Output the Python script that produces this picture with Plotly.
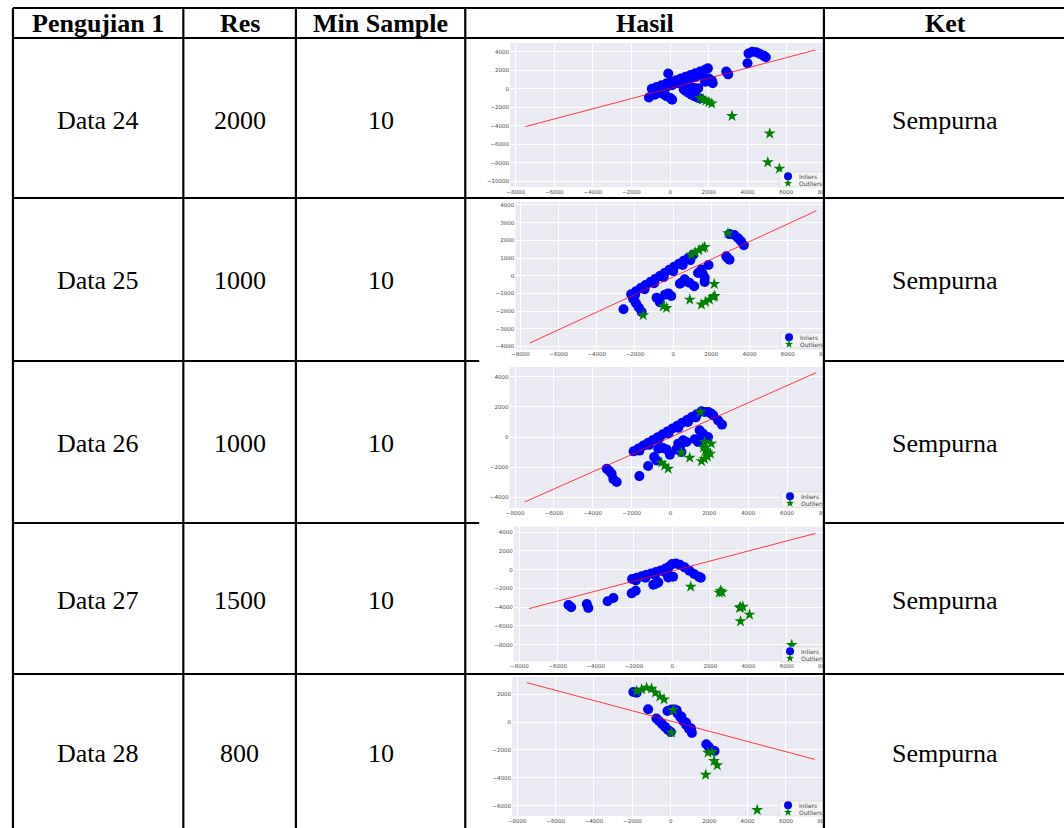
import math
import plotly.graph_objects as go

# ---------------- table content ----------------
header_labels = ["Pengujian 1", "Res", "Min Sample", "Hasil", "Ket"]
data_labels = ["Data 24", "Data 25", "Data 26", "Data 27", "Data 28"]
res_labels = ["2000", "1000", "1000", "1500", "800"]
min_sample_labels = ["10", "10", "10", "10", "10"]
ket_labels = ["Sempurna", "Sempurna", "Sempurna", "Sempurna", "Sempurna"]
legend_labels = ["Inliers", "Outliers"]

x_ticks = [-8000, -6000, -4000, -2000, 0, 2000, 4000, 6000, 8000]

# ---------------- Data 24 ----------------
d24_inliers = [
    (-950, 0), (-700, 180), (-450, 370), (-200, 560), (50, 740), (300, 920), (550, 1100),
    (800, 1290), (1050, 1480), (1300, 1670), (1550, 1860), (1800, 2050), (1950, 2200),
    (-800, -300), (-500, -80), (-200, 150), (100, 380), (400, 600), (700, 820), (1000, 1040),
    (1300, 1260), (1600, 1480),
    (-1100, -950), (-800, -650), (-550, -450), (-350, -600), (-200, -800), (0, -1000), (100, -1200),
    (-100, 1650),
    (700, -50), (1000, 200), (1450, 50), (1300, -150), (800, -250), (950, -450), (1100, -650),
    (1250, -800), (1400, -950), (1550, -1050), (900, 0), (1200, 100),
    (1800, 750), (2000, 1100), (2150, 900), (2200, 600), (1950, 800),
    (2900, 1850), (3000, 1550), (4000, 2750),
    (4050, 3800), (4250, 4000), (4450, 3950), (4650, 3750), (4850, 3550), (4950, 3400),
]
d24_outliers = [
    (1550, -1000), (1700, -1150), (1850, -1300), (2000, -1450), (2150, -1600),
    (3200, -2950), (5150, -4850), (5050, -7950), (5650, -8650),
]
d24_line_x = [-7500, 7500]
d24_line_y = [-4100, 4180]
d24_y_ticks = [-10000, -8000, -6000, -4000, -2000, 0, 2000, 4000]

# ---------------- Data 25 ----------------
d25_inliers = [
    (-2200, -1050), (-1950, -880), (-1700, -700), (-1450, -530), (-1200, -360), (-950, -190),
    (-700, -20), (-450, 150), (-200, 330), (50, 500), (300, 670), (550, 840), (800, 1010), (1050, 1190),
    (-2000, -1100), (-1500, -760), (-1000, -420), (-500, -80), (0, 260), (500, 600), (900, 880),
    (-2100, -1300), (-1950, -1550), (-1800, -1800), (-1650, -2050),
    (-2600, -1900),
    (-870, -1250), (-700, -1500),
    (-430, -1070), (-100, -1150), (-250, -1000),
    (350, -450), (600, -200), (850, -400), (1100, -600), (500, -350),
    (1300, 150), (1480, 350), (1650, -100), (1650, -350), (1850, 600), (1550, 100),
    (2780, 1100), (2950, 900), (2850, 1000),
    (2950, 2350), (3200, 2300), (3400, 2120), (3550, 1950), (3700, 1720),
]
d25_outliers = [
    (950, 1180), (1150, 1320), (1350, 1440), (1550, 1560), (1650, 1620),
    (2870, 2400), (-1570, -2230), (-520, -1730), (-350, -1820), (870, -1350),
    (1480, -1630), (1700, -1480), (1900, -1350), (2100, -1200), (2180, -1150),
    (2150, -470),
]
d25_line_x = [-7500, 7500]
d25_line_y = [-3800, 3670]
d25_y_ticks = [-4000, -3000, -2000, -1000, 0, 1000, 2000, 3000, 4000]

# ---------------- Data 26 ----------------
d26_inliers = [
    (-1900, -950), (-1650, -760), (-1400, -570), (-1150, -380), (-900, -200), (-650, -10),
    (-400, 180), (-150, 370), (100, 560), (350, 750), (600, 940), (850, 1130), (1100, 1320),
    (1350, 1500), (1600, 1700),
    (-1600, -900), (-1100, -520), (-600, -140), (-100, 240), (400, 620), (900, 1000), (1300, 1300),
    (1750, 1650), (1950, 1650), (2200, 1430), (2450, 1100), (2650, 820), (2100, 1550),
    (1500, 450), (1680, 220), (1930, 0), (1250, -150), (1420, -330), (1600, 100),
    (650, -220), (820, -330), (400, -440), (300, -820), (560, -990), (500, -600),
    (-630, -770), (-380, -730), (-200, -820), (-30, -1170), (-840, -1330), (-720, -1550),
    (-1150, -1920), (-1600, -2590),
    (-3280, -2100), (-3030, -2430), (-2940, -2800), (-2770, -2980), (-3150, -2250),
]
d26_outliers = [
    (1540, 1660), (1760, -330), (2100, -440),
    (1700, -700), (1800, -880), (1900, -1000), (2050, -1100), (1900, -1300), (1750, -1450), (1600, -1600),
    (560, -1040), (990, -1370),
    (-460, -1700), (-300, -1900), (-120, -2100),
]
d26_line_x = [-7500, 7500]
d26_line_y = [-4300, 4260]
d26_y_ticks = [-4000, -2000, 0, 2000, 4000]

# ---------------- Data 27 ----------------
d27_inliers = [
    (-2100, -1000), (-1850, -850), (-1600, -700), (-1350, -550), (-1100, -400), (-850, -250),
    (-600, -80), (-350, 120), (-150, 350),
    (-1900, -1150), (-1400, -850), (-900, -550), (-400, -250),
    (0, 600), (200, 650), (400, 530), (650, 250), (900, -100), (1150, -450), (1400, -750), (1500, -850),
    (-120, -640), (50, -750), (-210, -820),
    (-730, -1350), (-990, -1600), (-850, -1500),
    (-1910, -2240), (-2120, -2520),
    (-3080, -3020), (-3380, -3370),
    (-4470, -3660), (-4390, -4080),
    (-5430, -3760), (-5290, -4010),
]
d27_outliers = [
    (970, -1810), (2540, -2240), (2610, -2410), (2470, -2450),
    (3580, -4010), (3700, -3940), (3530, -4060), (4050, -4790), (3580, -5500), (6260, -8020),
]
d27_line_x = [-7500, 7500]
d27_line_y = [-4150, 3870]
d27_y_ticks = [-8000, -6000, -4000, -2000, 0, 2000, 4000]

# ---------------- Data 28 ----------------
d28_inliers = [
    (-1950, 2150), (-1780, 2100), (-1180, 910),
    (-750, 250), (-600, 50), (-450, -150), (-300, -350), (-150, -550), (0, -720),
    (-170, 790), (30, 900),
    (200, 900), (350, 620), (500, 340), (650, 60), (800, -220), (950, -500), (1100, -780),
    (300, 850), (550, 400), (800, -50), (1050, -450),
    (1850, -1600), (1970, -1770), (2110, -2000), (2280, -2080),
]
d28_outliers = [
    (-1780, 2220), (-1520, 2340), (-1260, 2460), (-1000, 2390), (-800, 2100), (-570, 1820), (-350, 1620),
    (120, 860), (35, -770), (1940, -2200), (2150, -2150), (2250, -2800), (2420, -3100),
    (1820, -3780), (4500, -6310),
]
d28_line_x = [-7500, 7500]
d28_line_y = [2820, -2680]
d28_y_ticks = [-6000, -4000, -2000, 0, 2000]

datasets = [
    (d24_inliers, d24_outliers, d24_line_x, d24_line_y, d24_y_ticks),
    (d25_inliers, d25_outliers, d25_line_x, d25_line_y, d25_y_ticks),
    (d26_inliers, d26_outliers, d26_line_x, d26_line_y, d26_y_ticks),
    (d27_inliers, d27_outliers, d27_line_x, d27_line_y, d27_y_ticks),
    (d28_inliers, d28_outliers, d28_line_x, d28_line_y, d28_y_ticks),
]

# ---------------- layout geometry (pixels) ----------------
W, H = 1064, 828
col_edges = [9, 180, 293, 463, 823, 1067]
row_edges = [8, 38, 198, 361, 523, 674, 832]
header_y = 23
row_text_y = [121, 281, 443, 600, 753]

# per subplot: pixel of x=0, px per 1000 in x, pixel of y=0, px per 1000 in y, frame box
frames = [
    dict(x0=668.7, xs=19.4, y0=88.7, ys=9.25, fx=(508, 840), fy=(43, 187)),
    dict(x0=671.7, xs=19.17, y0=275.7, ys=17.7, fx=(513.3, 840), fy=(202, 349.7)),
    dict(x0=669.0, xs=19.5, y0=437.0, ys=15.1, fx=(507.3, 840), fy=(367, 508)),
    dict(x0=670.7, xs=19.17, y0=569.7, ys=9.38, fx=(511.7, 840), fy=(526.7, 661.3)),
    dict(x0=669.3, xs=19.27, y0=722.0, ys=13.95, fx=(510, 840), fy=(677, 816)),
]
legend_boxes = [(778, 172), (779, 333), (780, 492), (780, 647), (778, 801)]


def px(v):
    return v / W


def py(v):
    return 1 - v / H


def fmt_tick(v):
    return ("\u2212" if v < 0 else "") + str(abs(v))


BLUE = "#0000FF"
GREEN = "#008000"
BG = "#EAEAF2"

fig = go.Figure()
layout_axes = {}
for i, (inl, outl, lx, ly, yt) in enumerate(datasets):
    k = "" if i == 0 else str(i + 1)
    xa, ya = "x" + k, "y" + k
    fig.add_trace(go.Scatter(
        x=[p[0] for p in inl], y=[p[1] for p in inl], mode="markers",
        marker=dict(color=BLUE, size=10, symbol="circle", line=dict(width=0)),
        xaxis=xa, yaxis=ya, showlegend=False, name="Inliers"))
    fig.add_trace(go.Scatter(
        x=[p[0] for p in outl], y=[p[1] for p in outl], mode="markers",
        marker=dict(color=GREEN, size=9, symbol="star", line=dict(width=0)),
        xaxis=xa, yaxis=ya, showlegend=False, name="Outliers"))
    fig.add_trace(go.Scatter(
        x=lx, y=ly, mode="lines", line=dict(color="rgba(255,0,0,0.75)", width=1),
        xaxis=xa, yaxis=ya, showlegend=False, name="Line"))
    f = frames[i]
    xr = [(f["fx"][0] - f["x0"]) / f["xs"] * 1000, (f["fx"][1] - f["x0"]) / f["xs"] * 1000]
    yr = [(f["y0"] - f["fy"][1]) / f["ys"] * 1000, (f["y0"] - f["fy"][0]) / f["ys"] * 1000]
    common = dict(showgrid=True, gridcolor="white", gridwidth=1, zeroline=False,
                  showline=False, ticks="", tickmode="array",
                  tickfont=dict(family="DejaVu Sans", size=5.5, color="#4a4a4a"),
                  fixedrange=True)
    layout_axes["xaxis" + k] = dict(domain=[px(f["fx"][0]), px(f["fx"][1])], range=xr,
                                    anchor=ya, tickvals=x_ticks,
                                    ticktext=[fmt_tick(v) for v in x_ticks], **common)
    layout_axes["yaxis" + k] = dict(domain=[py(f["fy"][1]), py(f["fy"][0])], range=yr,
                                    anchor=xa, tickvals=yt,
                                    ticktext=[fmt_tick(v) for v in yt], **common)

fig.update_layout(**layout_axes)

shapes = []
annotations = []


def star_path(cx, cy, r_out, r_in):
    pts = []
    for n in range(10):
        ang = -math.pi / 2 + n * math.pi / 5
        r = r_out if n % 2 == 0 else r_in
        pts.append((px(cx + r * math.cos(ang)), py(cy + r * math.sin(ang))))
    return "M " + " L ".join(f"{a:.6f},{b:.6f}" for a, b in pts) + " Z"


# legend boxes per subplot (drawn as shapes + text)
for (bx, by) in legend_boxes:
    shapes.append(dict(type="rect", xref="paper", yref="paper", layer="above",
                       x0=px(bx), x1=px(bx + 55), y0=py(by), y1=py(by + 15),
                       fillcolor="#F4F4F7", line=dict(color="#D4D4D8", width=0.6)))
    shapes.append(dict(type="circle", xref="paper", yref="paper", layer="above",
                       x0=px(bx + 5), x1=px(bx + 13), y0=py(by + 0.3), y1=py(by + 8.3),
                       fillcolor=BLUE, line=dict(width=0)))
    shapes.append(dict(type="path", xref="paper", yref="paper", layer="above",
                       path=star_path(bx + 9, by + 11.3, 4.2, 1.8),
                       fillcolor=GREEN, line=dict(width=0)))
    annotations.append(dict(x=px(bx + 19), y=py(by + 4), xref="paper", yref="paper",
                            text=legend_labels[0], showarrow=False, xanchor="left", yanchor="middle",
                            borderpad=0,
                            font=dict(family="DejaVu Sans", size=6, color="#444444")))
    annotations.append(dict(x=px(bx + 19), y=py(by + 11.5), xref="paper", yref="paper",
                            text=legend_labels[1], showarrow=False, xanchor="left", yanchor="middle",
                            borderpad=0,
                            font=dict(family="DejaVu Sans", size=6, color="#444444")))

# crop the plots at the Hasil column's right edge
shapes.append(dict(type="rect", xref="paper", yref="paper", layer="above",
                   x0=px(823), x1=px(1070), y0=py(40), y1=py(830),
                   fillcolor="white", line=dict(width=0)))

LW = 2.2


def hline(y, x0, x1):
    shapes.append(dict(type="line", xref="paper", yref="paper", layer="above",
                       x0=px(x0), x1=px(x1), y0=py(y), y1=py(y),
                       line=dict(color="black", width=LW)))


def vline(x, y0, y1):
    shapes.append(dict(type="line", xref="paper", yref="paper", layer="above",
                       x0=px(x), x1=px(x), y0=py(y0), y1=py(y1),
                       line=dict(color="black", width=LW)))


left, right = col_edges[0], col_edges[-1]
for y in row_edges[:-1]:
    if y in (361, 523):
        hline(y, left, 477)
        hline(y, col_edges[4], right)
    else:
        hline(y, left, right)
for x in col_edges:
    vline(x, row_edges[0], row_edges[-1])

# table texts
col_centers = [(col_edges[c] + col_edges[c + 1]) / 2 for c in range(5)]
col_centers[0] = 94
for c, h in enumerate(header_labels):
    annotations.append(dict(x=px(col_centers[c]), y=py(header_y), xref="paper", yref="paper",
                            text="<b>" + h + "</b>", showarrow=False, xanchor="center",
                            yanchor="middle",
                            font=dict(family="Liberation Serif", size=26, color="black")))
for r in range(5):
    for c, vals in [(0, data_labels), (1, res_labels), (2, min_sample_labels), (4, ket_labels)]:
        annotations.append(dict(x=px(col_centers[c]), y=py(row_text_y[r]), xref="paper",
                                yref="paper", text=vals[r], showarrow=False, xanchor="center",
                                yanchor="middle",
                                font=dict(family="Liberation Serif", size=26, color="black")))

fig.update_layout(
    width=W, height=H, margin=dict(l=0, r=0, t=0, b=0),
    paper_bgcolor="white", plot_bgcolor=BG, showlegend=False,
    shapes=shapes, annotations=annotations,
)

fig.write_html("out.html",
               config={"displayModeBar": False, "staticPlot": True},
               post_script="document.body.style.margin='0px';"
                           "document.body.style.overflow='hidden';")
